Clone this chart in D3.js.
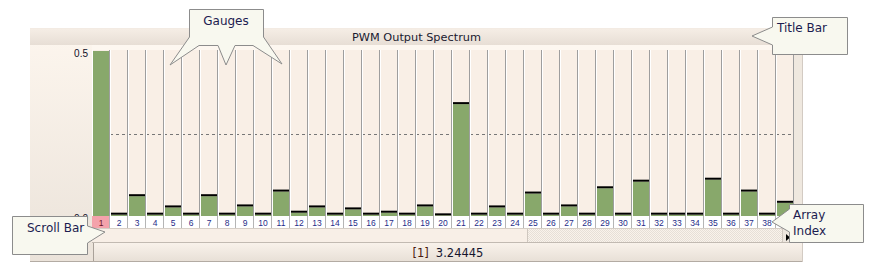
<!DOCTYPE html>
<html><head><meta charset="utf-8">
<script src="https://cdn.jsdelivr.net/npm/d3@7/dist/d3.min.js"></script>
<style>body{margin:0;background:#fff}svg{display:block}</style>
</head><body>
<svg id="chart" width="873" height="274"></svg>
<script>
// ---- data ----
const categories = [1,2,3,4,5,6,7,8,9,10,11,12,13,14,15,16,17,18,19,20,21,22,23,24,25,26,27,28,29,30,31,32,33,34,35,36,37,38,39];
const values = [3.24445,0.004,0.060,0.004,0.026,0.004,0.060,0.004,0.029,0.004,0.074,0.010,0.026,0.004,0.020,0.004,0.010,0.004,0.029,0.002,0.339,0.004,0.026,0.004,0.068,0.004,0.029,0.004,0.084,0.004,0.104,0.004,0.004,0.004,0.110,0.004,0.074,0.004,0.040];
const yTicks = [0, 0.5];
const yTickLabels = ["0.0", "0.5"];
const referenceLevel = [0.25];
const chartTitle = "PWM Output Spectrum";
const selectedIndex = 1;
const calloutTexts = ["Gauges", "Title Bar", "Scroll Bar", "Array Index"];

// ---- layout ----
const svg = d3.select("#chart");
const W0 = 30, W1 = 803, T0 = 28;
const plotL = 92, colW = 18;
const plotR = plotL + colW * categories.length;
const yBottom = 216, yTop = 51;
const x = d3.scaleBand().domain(categories).range([plotL, plotR]).paddingInner(0).paddingOuter(0);
const y = d3.scaleLinear().domain([0, 0.5]).range([yBottom, yTop]).clamp(true);

const defs = svg.append("defs");
function vgrad(id, c0, c1){
  const g = defs.append("linearGradient").attr("id", id).attr("x1",0).attr("y1",0).attr("x2",0).attr("y2",1);
  g.append("stop").attr("offset","0%").attr("stop-color",c0);
  g.append("stop").attr("offset","100%").attr("stop-color",c1);
}
vgrad("gLeft", "#fdf6ee", "#ebe3da");
vgrad("gTitle", "#f6eee6", "#e7ded5");
vgrad("gStatus", "#f9f2eb", "#e8e0d7");
const pat = defs.append("pattern").attr("id","hatch").attr("width",2).attr("height",2).attr("patternUnits","userSpaceOnUse");
pat.append("rect").attr("width",2).attr("height",2).attr("fill","#f9f2eb");
pat.append("rect").attr("width",1).attr("height",1).attr("fill","#e6dfd7");
pat.append("rect").attr("x",1).attr("y",1).attr("width",1).attr("height",1).attr("fill","#e6dfd7");

// widget frame
svg.append("rect").attr("x",W0).attr("y",T0).attr("width",W1-W0).attr("height",261-T0).attr("fill","url(#gLeft)");
// title bar
svg.append("rect").attr("x",W0).attr("y",T0).attr("width",W1-W0).attr("height",17).attr("fill","url(#gTitle)");
svg.append("line").attr("x1",W0).attr("x2",W1).attr("y1",T0+0.5).attr("y2",T0+0.5).attr("stroke","#f3ebe3");
svg.append("text").attr("x",(W0+W1)/2).attr("y",41).attr("text-anchor","middle")
  .attr("font-family","DejaVu Sans, sans-serif").attr("font-size",11.3).attr("fill","#1a1a30").text(chartTitle);
// light strip under title
svg.append("rect").attr("x",plotL).attr("y",45).attr("width",plotR-plotL).attr("height",5).attr("fill","#fdf7f0");
// right strip
svg.append("rect").attr("x",plotR).attr("y",45).attr("width",W1-plotR).attr("height",243-45).attr("fill","#efe8df");

// column backgrounds
svg.append("g").selectAll("rect").data(categories).join("rect")
  .attr("x", d => x(d)).attr("y", 50).attr("width", x.bandwidth()).attr("height", yBottom-50).attr("fill", "#f9efe6");

// reference dashed line
svg.append("g").selectAll("line").data(referenceLevel).join("line")
  .attr("x1", plotL).attr("x2", plotR).attr("y1", d => Math.round(y(d))+0.5).attr("y2", d => Math.round(y(d))+0.5)
  .attr("stroke", "#777777").attr("stroke-dasharray", "3,3");

// separators
const sep = svg.append("g");
sep.selectAll("line.w").data(categories).join("line").attr("class","w")
  .attr("x1", d => x(d)+0.5).attr("x2", d => x(d)+0.5).attr("y1", 50).attr("y2", yBottom).attr("stroke", "#ffffff");
sep.selectAll("line.g").data(categories).join("line").attr("class","g")
  .attr("x1", d => x(d)+colW-0.5).attr("x2", d => x(d)+colW-0.5).attr("y1", 50).attr("y2", yBottom).attr("stroke", "#9e9e9e");

// bars
const bars = svg.append("g");
bars.selectAll("rect.bar").data(categories).join("rect").attr("class","bar")
  .attr("x", d => x(d)+1).attr("width", x.bandwidth()-2)
  .attr("y", (d,i) => y(values[i])).attr("height", (d,i) => yBottom - y(values[i]))
  .attr("fill", "#88a86b");
bars.selectAll("rect.gauge").data(categories.filter((d,i)=>values[i] <= 0.5)).join("rect").attr("class","gauge")
  .attr("x", d => x(d)+1).attr("width", x.bandwidth()-2)
  .attr("y", d => y(values[categories.indexOf(d)]) - 2).attr("height", 2)
  .attr("fill", "#000");

// y axis labels
svg.append("g").selectAll("text").data(yTicks).join("text")
  .attr("x", 88).attr("y", d => y(d)+5.5).attr("text-anchor","end")
  .attr("font-family","Liberation Sans, Arial, sans-serif").attr("font-size",10).attr("fill","#101028")
  .text((d,i) => yTickLabels[i]);

// index label row
const lab = svg.append("g");
lab.selectAll("rect").data(categories).join("rect")
  .attr("x", d => x(d)).attr("y", yBottom).attr("width", x.bandwidth()).attr("height", 12)
  .attr("fill", d => d === selectedIndex ? "#f4a2ab" : "#ffffff");
lab.selectAll("line").data(categories).join("line")
  .attr("x1", d => x(d)+colW-0.5).attr("x2", d => x(d)+colW-0.5).attr("y1", yBottom).attr("y2", yBottom+12).attr("stroke","#b5b5b5");
lab.selectAll("text").data(categories).join("text")
  .attr("x", d => x(d)+colW/2).attr("y", yBottom+9.5).attr("text-anchor","middle")
  .attr("font-family","Liberation Sans, Arial, sans-serif").attr("font-size",8.5)
  .attr("fill", d => d === selectedIndex ? "#6a1426" : "#1f2c88").text(d => d);

// scroll bar
svg.append("rect").attr("x",plotL).attr("y",228).attr("width",plotR-plotL).attr("height",15).attr("fill","url(#hatch)");
svg.append("rect").attr("x",plotL).attr("y",228).attr("width",527-plotL).attr("height",15).attr("fill","#f8efe7");
svg.append("line").attr("x1",527.5).attr("x2",527.5).attr("y1",228).attr("y2",243).attr("stroke","#cfc7bf");
svg.append("rect").attr("x",782).attr("y",228).attr("width",plotR-782).attr("height",15).attr("fill","#ede6de");
svg.append("line").attr("x1",782.5).attr("x2",782.5).attr("y1",228).attr("y2",243).attr("stroke","#cfc7bf");
svg.append("path").attr("d","M786,234 L790,237.5 L786,241 Z").attr("fill","#000");
svg.append("line").attr("x1",plotL).attr("x2",plotR).attr("y1",228.5).attr("y2",228.5).attr("stroke","#d6cec6");
svg.append("line").attr("x1",plotL).attr("x2",W1).attr("y1",242.5).attr("y2",242.5).attr("stroke","#c2bab2");

// status bar
svg.append("rect").attr("x",93).attr("y",243).attr("width",W1-93).attr("height",18).attr("fill","url(#gStatus)");
svg.append("line").attr("x1",93.5).attr("x2",93.5).attr("y1",243).attr("y2",261).attr("stroke","#a9a199");
const st = svg.append("text").attr("x",(93+W1)/2).attr("y",257).attr("text-anchor","middle")
  .attr("font-family","DejaVu Sans, sans-serif").attr("font-size",11.5);
st.append("tspan").attr("fill","#4a1a0e").text("[" + selectedIndex + "]");
st.append("tspan").attr("fill","#15152e").attr("dx",7).text(values[selectedIndex-1]);
// frame edges
svg.append("line").attr("x1",W0).attr("x2",W1).attr("y1",261.5).attr("y2",261.5).attr("stroke","#b3aba3");
svg.append("line").attr("x1",W1-0.5).attr("x2",W1-0.5).attr("y1",T0).attr("y2",262).attr("stroke","#d3cbc3");

// callouts
const co = svg.append("g").attr("font-family","DejaVu Sans, sans-serif").attr("font-size",12).attr("fill","#1c1c50");
function callout(d){
  co.append("path").attr("d", d).attr("fill","#f8f8ef").attr("stroke","#8c8c8c").attr("stroke-width",1);
}
callout("M189.5,9.5 H263.5 V37 L282,64 L253,45.5 H235 L226,65 L218,45.5 H199 L170,65 L189.5,37 Z");
co.append("text").attr("x",226).attr("y",25).attr("text-anchor","middle").text(calloutTexts[0]);
callout("M772.5,17.5 H847.5 V54.5 H772.5 V45 L752,36 L772.5,27 Z");
co.append("text").attr("x",777).attr("y",32).text(calloutTexts[1]);
callout("M12.5,216.5 H87.5 V226 L105,232 L87.5,243 V254.5 H12.5 Z");
co.append("text").attr("x",27).attr("y",232).text(calloutTexts[2]);
callout("M789.5,204.5 H863.5 V242.5 H789.5 V232 L772,222 L789.5,209 Z");
const ai = calloutTexts[3].split(" ");
co.append("text").attr("x",793).attr("y",219).text(ai[0]);
co.append("text").attr("x",793).attr("y",235).text(ai[1]);
</script>
</body></html>
